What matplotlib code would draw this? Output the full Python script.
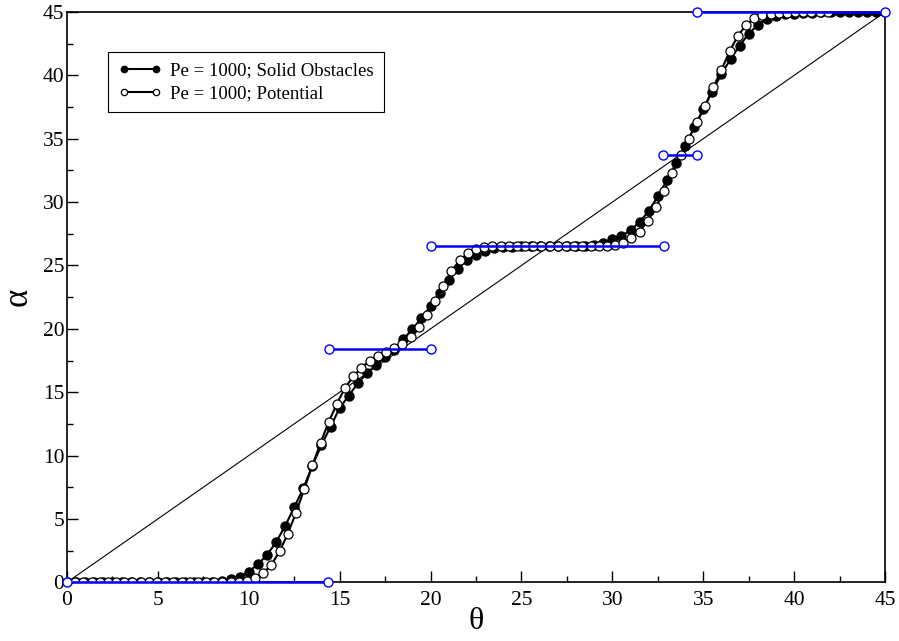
import numpy as np
import matplotlib
matplotlib.use("Agg")
import matplotlib.pyplot as plt
from matplotlib.ticker import MultipleLocator

plt.rcParams["font.family"] = ["Liberation Serif", "DejaVu Serif"]

# solid obstacles, theta = 0, 0.5, ..., 45
theta_solid = np.linspace(0, 45, 91)
alpha_solid = [0] * 16 + [
    0.05, 0.12, 0.24, 0.44, 0.84, 1.42, 2.15, 3.16, 4.44, 5.92,
    7.42, 9.2, 10.84, 12.28, 13.75, 14.73, 15.7, 16.5, 17.15, 17.76,
    18.35, 19.18, 19.97, 20.84, 21.8, 22.86, 23.86, 24.72, 25.45, 25.85,
    26.17, 26.36, 26.44, 26.48, 26.5, 26.5, 26.5, 26.5, 26.5, 26.52,
    26.54, 26.57, 26.62, 26.8, 27.07, 27.3, 27.8, 28.42, 29.3, 30.45,
    31.72, 33.07, 34.43, 35.9, 37.33, 38.72, 40.12, 41.28, 42.35, 43.28,
    43.99, 44.43, 44.7, 44.82, 44.88, 44.92, 44.95,
    44.97, 44.98, 44.99, 45, 45, 45, 45, 45]

# potential, theta = 0, 0.45, ..., 41.85
theta_pot = np.linspace(0, 41.85, 94)
alpha_pot = [0] * 22 + [
    0.1, 0.37, 0.72, 1.4, 2.45, 3.84, 5.5, 7.34, 9.23, 11.0,
    12.67, 14.1, 15.35, 16.25, 16.92, 17.5, 17.88, 18.2, 18.5, 18.84,
    19.34, 20.12, 21.1, 22.23, 23.41, 24.54, 25.42, 25.95, 26.26, 26.45,
    26.52] + [26.55] * 14 + [
    26.62, 26.8, 27.2, 27.67, 28.54, 29.6, 30.88, 32.28, 33.68, 35.0,
    36.28, 37.6, 39.05, 40.44, 41.9, 43.1, 43.98, 44.5, 44.76, 44.87,
    44.92, 44.95, 44.96, 44.97, 44.98, 44.98, 44.99]

# plateau segments (locked angles)
step_level = [0, 18.43, 26.57, 33.69, 45]
step_start = [0, 14.4, 20.05, 32.8, 34.65]
step_end = [14.35, 20.0, 32.85, 34.65, 45]

fig = plt.figure(figsize=(8.99, 6.41), dpi=100)
ax = fig.add_axes([0.0745, 0.0916, 0.91, 0.8897])

ax.plot([0, 45], [0, 45], color="black", lw=0.8, zorder=1)
ax.plot(theta_solid, alpha_solid, "-o", color="black", lw=1.5, ms=6.5,
        mfc="black", mec="black", label="Pe = 1000; Solid Obstacles", zorder=2)
ax.plot(theta_pot, alpha_pot, "-o", color="black", lw=1.5, ms=6.5,
        mfc="white", mec="black", mew=0.9, label="Pe = 1000; Potential", zorder=3)
for lvl, a, b in zip(step_level, step_start, step_end):
    ax.plot([a, b], [lvl, lvl], "-o", color="#0000ff", lw=1.8, ms=6.5,
            mfc="white", mec="#0000ff", mew=1.0, zorder=4, clip_on=False)

ax.set_xlim(0, 45)
ax.set_ylim(0, 45)
ax.xaxis.set_major_locator(MultipleLocator(5))
ax.yaxis.set_major_locator(MultipleLocator(5))
ax.xaxis.set_minor_locator(MultipleLocator(2.5))
ax.yaxis.set_minor_locator(MultipleLocator(2.5))
ax.tick_params(which="both", direction="in", top=False, right=False,
               labelsize=15.5, width=1.0)
ax.tick_params(axis="x", pad=6)
ax.tick_params(axis="y", pad=2)
ax.tick_params(which="major", length=8)
ax.tick_params(which="minor", length=4)
for s in ax.spines.values():
    s.set_linewidth(1.2)

ax.set_xlabel("θ", fontsize=23, labelpad=-2)
ax.set_ylabel("α", fontsize=25, labelpad=6)

leg = ax.legend(loc="upper left", bbox_to_anchor=(0.05, 0.93), numpoints=2,
                markerscale=0.7, fontsize=13.5, fancybox=False, framealpha=1,
                edgecolor="black", handlelength=2.3, borderpad=0.55,
                borderaxespad=0, labelspacing=0.3, handletextpad=0.45)
leg.get_frame().set_linewidth(0.8)

fig.savefig("out.png", dpi=100)
